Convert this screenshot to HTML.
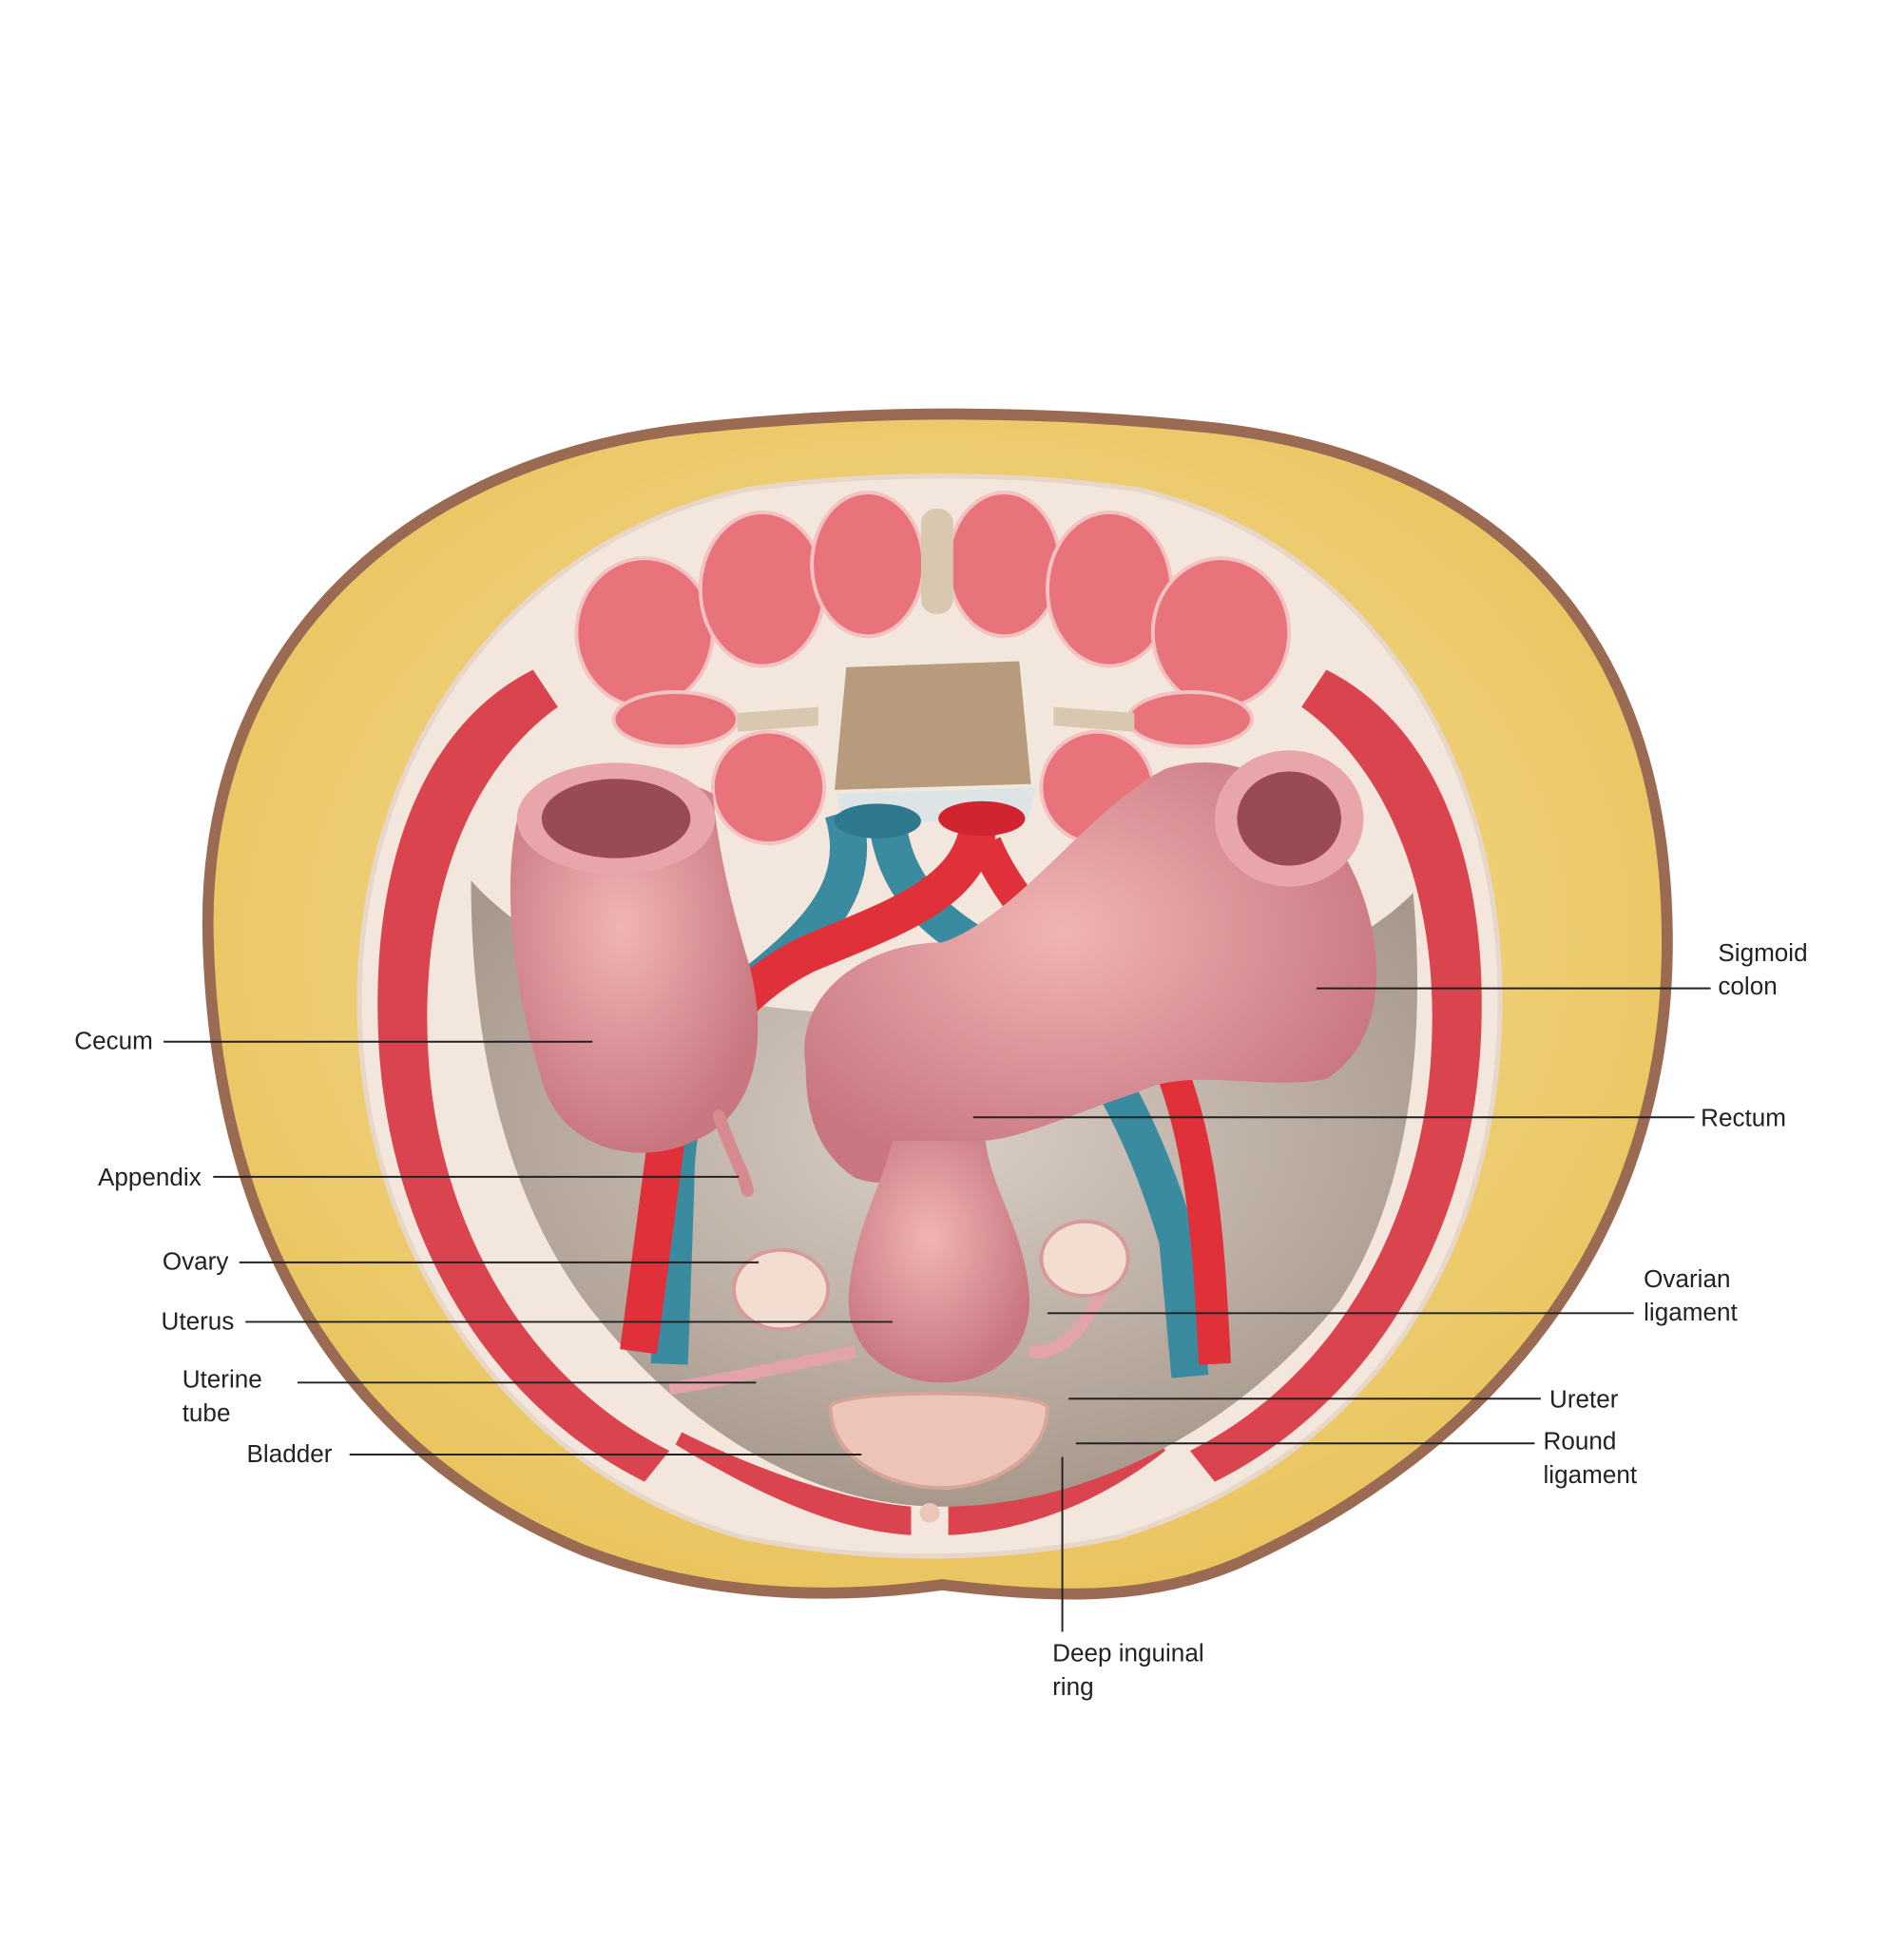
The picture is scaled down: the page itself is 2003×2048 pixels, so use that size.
<!DOCTYPE html>
<html><head><meta charset="utf-8"><style>
html,body{margin:0;padding:0;background:#fff;}
svg{display:block;}
text{font-family:"Liberation Sans",Arial,sans-serif;font-size:20px;fill:#222;}
</style></head><body>
<svg width="2003" height="2048" viewBox="0 0 1536 1570" xmlns="http://www.w3.org/2000/svg">
<defs>
<radialGradient id="fat" cx="50%" cy="45%" r="60%"><stop offset="0" stop-color="#f6e2a0"/><stop offset="1" stop-color="#e9c25a"/></radialGradient>
<radialGradient id="pink" cx="45%" cy="40%" r="60%"><stop offset="0" stop-color="#f0b4b4"/><stop offset="1" stop-color="#c97680"/></radialGradient>
<radialGradient id="gray" cx="50%" cy="40%" r="60%"><stop offset="0" stop-color="#d9cfc6"/><stop offset="1" stop-color="#a8988c"/></radialGradient>
</defs>
<!-- body outline -->
<path d="M168,760 C160,520 330,370 560,345 C700,330 840,330 980,345 C1200,370 1345,500 1345,760 C1345,1000 1200,1170 1000,1260 C930,1290 860,1290 760,1278 C660,1292 560,1285 470,1250 C280,1170 175,1000 168,760 Z" fill="url(#fat)" stroke="#9a6a52" stroke-width="9"/>
<!-- inner cavity -->
<path d="M290,820 C285,620 400,440 600,395 C700,380 820,380 920,395 C1110,440 1215,620 1210,820 C1205,1020 1100,1180 900,1240 C800,1260 700,1260 600,1240 C420,1190 295,1020 290,820 Z" fill="#f3e6dc" stroke="#e8d6c8" stroke-width="4"/>
<!-- side muscles -->
<path d="M305,830 C300,680 350,580 430,540 L450,570 C380,620 340,720 345,840 C350,980 420,1110 540,1170 L520,1195 C390,1130 310,990 305,830 Z" fill="#d9444e"/>
<path d="M1195,830 C1200,680 1150,580 1070,540 L1050,570 C1120,620 1160,720 1155,840 C1150,980 1080,1110 960,1170 L980,1195 C1110,1130 1190,990 1195,830 Z" fill="#d9444e"/>
<path d="M545,1165 C620,1210 680,1235 735,1238 L735,1215 C680,1210 610,1185 550,1155 Z" fill="#d9444e"/>
<path d="M765,1238 C830,1235 890,1210 940,1170 L935,1160 C890,1190 830,1212 765,1215 Z" fill="#d9444e"/>
<!-- gray pelvic floor -->
<path d="M380,710 C380,820 400,960 480,1060 C560,1160 660,1215 760,1215 C880,1215 1000,1150 1080,1050 C1140,960 1150,830 1140,720 C1060,800 900,820 760,820 C620,820 460,800 380,710 Z" fill="url(#gray)"/>
<!-- back muscles -->
<g fill="#e8737a" stroke="#f5c2c2" stroke-width="3">
<ellipse cx="520" cy="510" rx="55" ry="60"/>
<ellipse cx="615" cy="475" rx="50" ry="62"/>
<ellipse cx="700" cy="455" rx="45" ry="58"/>
<ellipse cx="810" cy="455" rx="45" ry="58"/>
<ellipse cx="895" cy="475" rx="50" ry="62"/>
<ellipse cx="985" cy="510" rx="55" ry="60"/>
<ellipse cx="545" cy="580" rx="50" ry="22"/>
<ellipse cx="960" cy="580" rx="50" ry="22"/>
<ellipse cx="620" cy="635" rx="45" ry="45"/>
<ellipse cx="885" cy="635" rx="45" ry="45"/>
</g>
<rect x="743" y="410" width="26" height="85" rx="12" fill="#d8c8b0"/>
<path d="M595,575 L660,570 L660,585 L595,590Z M850,570 L915,575 L915,590 L850,585Z" fill="#d8c8b0"/>
<!-- vertebra -->
<path d="M680,535 L825,530 L835,635 L670,640 Z" fill="#b89a7c" stroke="#f0e8dc" stroke-width="6"/>
<path d="M675,640 L835,635 L830,660 L680,665 Z" fill="#dde4e6"/>
<!-- vessels -->
<path d="M680,655 C700,720 650,760 600,800 C560,840 545,900 545,960 L540,1100" fill="none" stroke="#3b8ba0" stroke-width="30"/>
<path d="M715,655 C720,720 760,750 820,780 C880,830 920,900 950,1000 L960,1110" fill="none" stroke="#3b8ba0" stroke-width="30"/>
<path d="M790,655 C790,720 720,740 650,770 C590,800 560,850 540,900 L515,1090" fill="none" stroke="#e0303a" stroke-width="30"/>
<path d="M795,680 C820,740 880,790 940,850 C970,920 975,1000 980,1100" fill="none" stroke="#e0303a" stroke-width="26"/>
<ellipse cx="708" cy="662" rx="35" ry="14" fill="#2e7890"/>
<ellipse cx="792" cy="660" rx="35" ry="14" fill="#d02430"/>
<!-- cecum -->
<path d="M420,650 C400,720 420,820 440,880 C460,930 520,940 560,920 C610,900 620,840 605,780 C590,730 580,690 575,640 C540,620 450,620 420,650 Z" fill="url(#pink)"/>
<ellipse cx="497" cy="660" rx="80" ry="45" fill="#e8a6aa"/>
<ellipse cx="497" cy="660" rx="60" ry="32" fill="#9a4a55"/>
<path d="M580,900 C590,930 600,945 603,960" stroke="#d68a90" stroke-width="10" fill="none" stroke-linecap="round"/>
<!-- rectum/sigmoid -->
<path d="M650,860 C640,800 700,760 760,760 C820,740 880,650 940,620 C1000,600 1060,640 1090,700 C1120,760 1120,840 1070,870 C1020,880 960,860 920,880 C860,900 820,920 790,920 C750,950 720,960 690,950 C660,930 650,900 650,860 Z" fill="url(#pink)"/>
<ellipse cx="1040" cy="660" rx="60" ry="55" fill="#e8a6aa"/>
<ellipse cx="1040" cy="660" rx="42" ry="38" fill="#9a4a55"/>
<!-- uterus -->
<path d="M720,920 C710,960 690,990 685,1040 C680,1090 720,1115 760,1115 C800,1115 835,1090 830,1040 C825,990 800,960 795,920 Z" fill="url(#pink)"/>
<path d="M690,1090 C640,1100 600,1110 540,1120" stroke="#e2a4a8" stroke-width="10" fill="none"/>
<path d="M830,1090 C860,1095 880,1060 890,1040" stroke="#e2a4a8" stroke-width="10" fill="none"/>
<!-- ovaries -->
<ellipse cx="630" cy="1040" rx="38" ry="32" fill="#f3dcd0" stroke="#d69a9a" stroke-width="3"/>
<ellipse cx="875" cy="1015" rx="35" ry="30" fill="#f3dcd0" stroke="#d69a9a" stroke-width="3"/>
<!-- bladder -->
<path d="M670,1135 C670,1120 840,1120 845,1135 C845,1175 800,1200 760,1200 C715,1200 670,1175 670,1135 Z" fill="#ecc5b8" stroke="#d6a598" stroke-width="3"/>
<circle cx="750" cy="1220" r="8" fill="#ecc5b8"/>
<!-- leader lines -->
<g stroke="#222" stroke-width="1.5" fill="none">
<line x1="132" y1="840" x2="478" y2="840"/>
<line x1="172" y1="949" x2="596" y2="949"/>
<line x1="193" y1="1018" x2="612" y2="1018"/>
<line x1="198" y1="1066" x2="720" y2="1066"/>
<line x1="240" y1="1115" x2="610" y2="1115"/>
<line x1="282" y1="1173" x2="695" y2="1173"/>
<line x1="1062" y1="797" x2="1380" y2="797"/>
<line x1="785" y1="901" x2="1367" y2="901"/>
<line x1="845" y1="1059" x2="1318" y2="1059"/>
<line x1="862" y1="1128" x2="1243" y2="1128"/>
<line x1="868" y1="1164" x2="1238" y2="1164"/>
<line x1="857" y1="1175" x2="857" y2="1316"/>
</g>
<text x="60" y="846">Cecum</text>
<text x="79" y="956">Appendix</text>
<text x="131" y="1024">Ovary</text>
<text x="130" y="1072">Uterus</text>
<text x="147" y="1119">Uterine</text>
<text x="147" y="1146">tube</text>
<text x="199" y="1179">Bladder</text>
<text x="1386" y="775">Sigmoid</text>
<text x="1386" y="802">colon</text>
<text x="1372" y="908">Rectum</text>
<text x="1326" y="1038">Ovarian</text>
<text x="1326" y="1065">ligament</text>
<text x="1250" y="1135">Ureter</text>
<text x="1245" y="1169">Round</text>
<text x="1245" y="1196">ligament</text>
<text x="849" y="1340">Deep inguinal</text>
<text x="849" y="1367">ring</text>
</svg>
</body></html>
